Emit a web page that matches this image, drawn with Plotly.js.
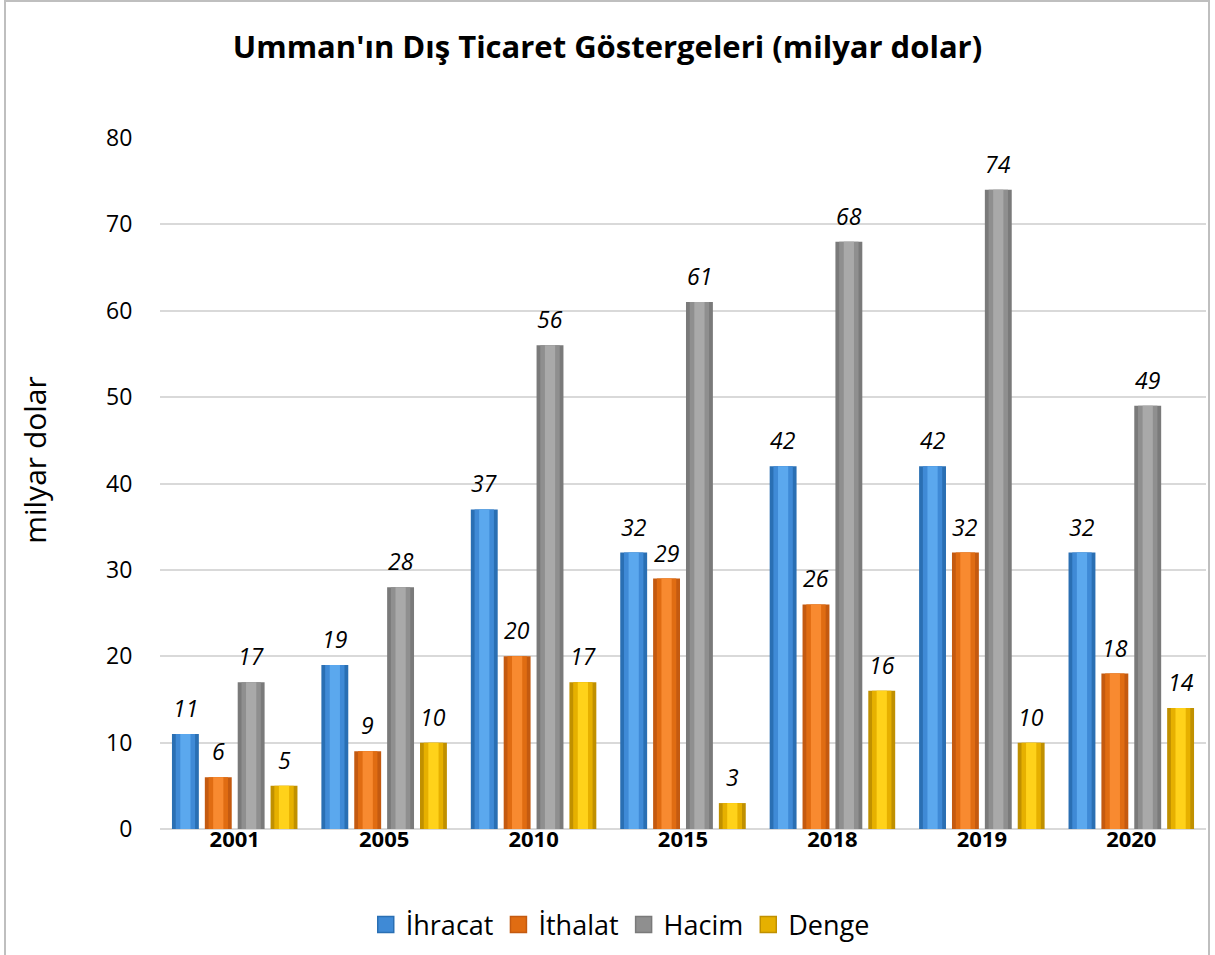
<!DOCTYPE html>
<html>
<head>
<meta charset="utf-8">
<script src="https://cdn.plot.ly/plotly-3.0.1.min.js"></script>
<style>
  html, body { margin: 0; padding: 0; background: #fff; }
  #wrap { position: relative; width: 1215px; height: 955px; }
  #chart { position: absolute; left: 0; top: 0; width: 1215px; height: 955px; }
  #frame { position: absolute; left: 4px; top: 0px; width: 1206px; height: 970px;
           border: 2px solid #bfbfbf; box-sizing: border-box; pointer-events: none; }
</style>
</head>
<body>
<div id="wrap">
  <div id="chart"></div>
  <div id="frame"></div>
</div>
<script>
const years = ['2001', '2005', '2010', '2015', '2018', '2019', '2020'];
const seriesNames = ['İhracat', 'İthalat', 'Hacim', 'Denge'];
const ihracat = [11, 19, 37, 32, 42, 42, 32];
const ithalat = [6, 9, 20, 29, 26, 32, 18];
const hacim = [17, 28, 56, 61, 68, 74, 49];
const denge = [5, 10, 17, 3, 16, 10, 14];

const seriesValues = [ihracat, ithalat, hacim, denge];
const darkColors = ['#2a6fb3', '#c45a10', '#7a7a7a', '#c09000'];
const midColors = ['#3f8ad6', '#e06c12', '#8f8f8f', '#e6b000'];
const lightColors = ['#5ba8ee', '#f88a30', '#a9a9a9', '#ffd21a'];

const barW = 0.18;
const pitch = 0.22;
const start = -0.42;

const traces = [];
const annotations = [];
const font = 'Open Sans, Noto Sans, sans-serif';

seriesValues.forEach((vals, i) => {
  const off = start + i * pitch;
  traces.push({
    type: 'bar', x: years, y: vals, name: seriesNames[i],
    width: barW, offset: off,
    marker: { color: darkColors[i], line: { width: 0 } },
    hoverinfo: 'skip', showlegend: false
  });
  const layers = [[0.72, midColors[i]], [0.38, lightColors[i]]];
  layers.forEach(([f, c]) => {
    const w = barW * f;
    traces.push({
      type: 'bar', x: years, y: vals, name: seriesNames[i],
      width: w, offset: off + (barW - w) / 2,
      marker: { color: c, line: { width: 0 } },
      hoverinfo: 'skip', showlegend: false
    });
  });
  vals.forEach((v, j) => {
    annotations.push({
      x: j + off + barW / 2, y: v, xref: 'x', yref: 'y',
      text: String(v), showarrow: false,
      yanchor: 'bottom', yshift: 8,
      font: { family: font, size: 23, style: 'italic', color: '#000' }
    });
  });
});

// y-axis title placed as annotation (positioned like reference)
annotations.push({
  xref: 'paper', yref: 'paper', x: -0.12, y: 0.535,
  xanchor: 'center', yanchor: 'middle', textangle: -90,
  text: 'milyar dolar', showarrow: false,
  font: { family: font, size: 30, color: '#000' }
});

// legend-only entries (square swatches)
seriesNames.forEach((n, i) => {
  traces.push({
    type: 'scatter', mode: 'markers', x: [null], y: [null], name: n,
    marker: { symbol: 'square', size: 16, color: midColors[i], line: { color: darkColors[i], width: 1.5 } },
    hoverinfo: 'skip', showlegend: true
  });
});

const layout = {
  width: 1215, height: 955,
  margin: { l: 160, r: 9, t: 138, b: 126, autoexpand: false },
  paper_bgcolor: '#fff', plot_bgcolor: '#fff',
  barmode: 'overlay',
  title: {
    text: "Umman'ın Dış Ticaret Göstergeleri (milyar dolar)",
    font: { family: font, size: 31, weight: 'bold', color: '#000' },
    x: 0.5, xref: 'container', xanchor: 'center', y: 0.951, yanchor: 'middle'
  },
  xaxis: {
    type: 'category', range: [-0.5, 6.5],
    showgrid: false, zeroline: false, showline: false,
    tickfont: { family: font, size: 22, weight: 'bold', color: '#000' },
    ticks: '', ticklabelstandoff: -5, fixedrange: true, automargin: false
  },
  yaxis: {
    range: [0, 80], dtick: 10, tick0: 0,
    showgrid: true, gridcolor: '#d9d9d9', gridwidth: 2,
    zeroline: true, zerolinecolor: '#d9d9d9', zerolinewidth: 2,
    showline: false,
    ticks: 'outside', ticklen: 22, tickcolor: 'rgba(0,0,0,0)',
    tickfont: { family: font, size: 23, color: '#000' },
    automargin: false, fixedrange: true
  },
  legend: {
    orientation: 'h', x: 0.44, xanchor: 'center', y: -0.139, yanchor: 'middle',
    font: { family: font, size: 27, color: '#000' },
    itemwidth: 30, tracegroupgap: 0, itemsizing: 'trace'
  },
  annotations: annotations,
  showlegend: true
};

Plotly.newPlot('chart', traces, layout, { displayModeBar: false, staticPlot: true });
</script>
</body>
</html>
